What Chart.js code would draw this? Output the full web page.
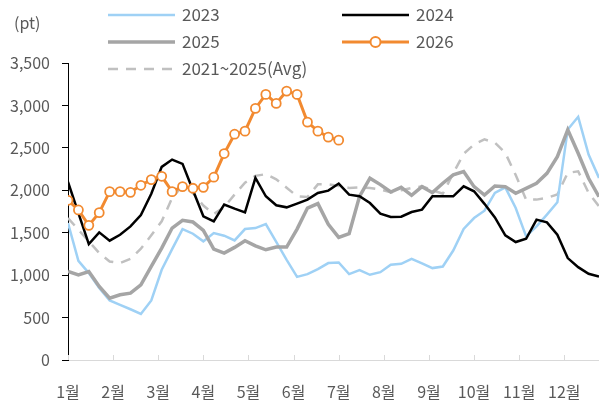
<!DOCTYPE html>
<html>
<head>
<meta charset="utf-8">
<script src="https://cdn.jsdelivr.net/npm/chart.js@4.4.1/dist/chart.umd.min.js"></script>
<style>
  html, body { margin: 0; padding: 0; background: #fff; }
  #wrap { position: relative; width: 599px; height: 405px; overflow: hidden; }
  #c { position: absolute; left: 0; top: 0; }
  .lg { position: absolute; font-family: 'Noto Sans CJK KR', 'Noto Sans', sans-serif; font-size: 17px; color: #595959; line-height: 20px; white-space: nowrap; }
  svg.sw { position: absolute; overflow: visible; }
</style>
</head>
<body>
<div id="wrap">
  <canvas id="c" width="599" height="405"></canvas>
  <div class="lg" style="left:14px; top:12px; font-size:16px;">(pt)</div>
  <svg class="sw" style="left:108px; top:14px;" width="67" height="2"><line x1="0" y1="1" x2="67" y2="1" stroke="#9fd1f5" stroke-width="2.5"/></svg>
  <div class="lg" style="left:182px; top:4px;">2023</div>
  <svg class="sw" style="left:342px; top:14px;" width="67" height="2"><line x1="0" y1="1" x2="67" y2="1" stroke="#000" stroke-width="2.5"/></svg>
  <div class="lg" style="left:416px; top:4px;">2024</div>
  <svg class="sw" style="left:108px; top:41px;" width="67" height="2"><line x1="0" y1="1" x2="67" y2="1" stroke="#a5a5a5" stroke-width="3.5"/></svg>
  <div class="lg" style="left:182px; top:31px;">2025</div>
  <svg class="sw" style="left:342px; top:41px;" width="67" height="2"><line x1="0" y1="1" x2="67" y2="1" stroke="#f28a30" stroke-width="3"/><circle cx="33.5" cy="1" r="5" fill="#fff" stroke="#f28a30" stroke-width="2"/></svg>
  <div class="lg" style="left:416px; top:31px;">2026</div>
  <svg class="sw" style="left:108px; top:68px;" width="67" height="2"><line x1="0" y1="1" x2="67" y2="1" stroke="#c0c0c0" stroke-width="2.5" stroke-dasharray="10 8"/></svg>
  <div class="lg" style="left:182px; top:58px;">2021~2025(Avg)</div>
</div>
<script>
// ---- data (weekly index 0..51) ----
const monthLabels = ['1월','2월','3월','4월','5월','6월','7월','8월','9월','10월','11월','12월'];
const monthPos = [0, 4.33, 8.67, 13, 17.33, 21.67, 26, 30.33, 34.67, 39, 43.33, 47.67];
const yTicks = [0, 500, 1000, 1500, 2000, 2500, 3000, 3500];

const s2023 = [1614,1169,1024,850,701,650,598,543,701,1063,1307,1543,1488,1398,1496,1465,1409,1543,1555,1602,1393,1180,980,1012,1071,1142,1150,1012,1059,1004,1035,1122,1134,1193,1138,1083,1102,1290,1545,1673,1760,1969,2035,1791,1457,1575,1713,1858,2717,2866,2421,2146];
const s2024 = [2098,1730,1366,1504,1406,1476,1575,1709,1960,2276,2362,2311,2000,1693,1634,1831,1783,1740,2146,1929,1823,1799,1843,1890,1969,1996,2079,1949,1929,1850,1724,1685,1689,1744,1772,1929,1929,1929,2047,1988,1840,1680,1469,1390,1429,1654,1622,1476,1201,1094,1016,984];
const s2025 = [1043,1004,1043,866,728,768,787,886,1102,1319,1555,1646,1626,1528,1307,1260,1327,1406,1346,1299,1331,1331,1543,1791,1843,1600,1445,1488,1929,2142,2067,1980,2035,1941,2043,1972,2083,2181,2220,2043,1944,2050,2043,1964,2023,2082,2200,2397,2712,2437,2142,1924];
const s2026 = [1882,1768,1587,1736,1984,1984,1976,2059,2126,2165,1984,2043,2024,2035,2154,2433,2661,2697,2965,3130,3024,3169,3130,2803,2697,2626,2591];
const sAvg = [1673,1535,1398,1260,1161,1142,1193,1311,1469,1634,1909,2055,1965,1820,1720,1800,1950,2090,2170,2190,2130,2030,1930,1920,2070,2070,2050,2028,2035,2028,2008,1976,2000,2028,2047,2000,1960,2200,2430,2540,2600,2560,2440,2180,1890,1890,1910,1950,2205,2224,1969,1811];

const toXY = arr => arr.map((v, i) => ({ x: i, y: v }));

const xTickMarks = {
  id: 'xTickMarks',
  beforeDatasetsDraw(chart) {
    const { ctx, chartArea, scales } = chart;
    ctx.save();
    ctx.strokeStyle = '#d9d9d9';
    ctx.lineWidth = 1;
    monthPos.forEach(v => {
      const px = Math.round(scales.x.getPixelForValue(v)) + 0.5;
      ctx.beginPath();
      ctx.moveTo(px, chartArea.bottom);
      ctx.lineTo(px, chartArea.bottom - 5);
      ctx.stroke();
    });
    ctx.restore();
  }
};

Chart.defaults.font.family = "'Noto Sans CJK KR', 'Noto Sans', sans-serif";
Chart.defaults.font.size = 16;
Chart.defaults.color = '#595959';

new Chart(document.getElementById('c'), {
  type: 'line',
  data: {
    datasets: [
      { label: '2026', data: toXY(s2026), borderColor: '#f28a30', borderWidth: 3, pointRadius: 4.5, pointBorderWidth: 1.8, pointBackgroundColor: '#fff', pointBorderColor: '#f28a30', order: 0 },
      { label: '2024', data: toXY(s2024), borderColor: '#000000', borderWidth: 2.5, pointRadius: 0, order: 1 },
      { label: '2025', data: toXY(s2025), borderColor: '#a5a5a5', borderWidth: 3.5, pointRadius: 0, order: 2 },
      { label: '2023', data: toXY(s2023), borderColor: '#9fd1f5', borderWidth: 2.5, pointRadius: 0, order: 3 },
      { label: '2021~2025(Avg)', data: toXY(sAvg), borderColor: '#c0c0c0', borderWidth: 2.5, borderDash: [10, 8], pointRadius: 0, order: 4 }
    ]
  },
  options: {
    responsive: false,
    animation: false,
    devicePixelRatio: 1,
    layout: { autoPadding: false, padding: { top: 63, right: 0, left: 0, bottom: 0 } },
    plugins: { legend: { display: false }, tooltip: { enabled: false } },
    elements: { line: { tension: 0, borderCapStyle: 'butt', borderJoinStyle: 'miter' } },
    scales: {
      x: {
        type: 'linear',
        min: 0,
        max: 51,
        afterBuildTicks: s => { s.ticks = monthPos.map(v => ({ value: v })); },
        afterFit: s => { s.height = 45; s.paddingRight = 0; s.paddingLeft = 0; },
        ticks: { autoSkip: false, maxRotation: 0, padding: 22, callback: (v, i) => monthLabels[i] },
        grid: { drawOnChartArea: false, drawTicks: false },
        border: { display: true, color: '#d9d9d9', width: 1 }
      },
      y: {
        min: 0,
        max: 3500,
        afterBuildTicks: s => { s.ticks = yTicks.map(v => ({ value: v })); },
        afterFit: s => { s.width = 68; s.paddingTop = 0; s.paddingBottom = 0; },
        ticks: { padding: 12, callback: v => v.toLocaleString('en-US') },
        grid: { drawOnChartArea: false, drawTicks: true, tickLength: 6, color: '#000' },
        border: { display: true, color: '#000', width: 1 }
      }
    }
  },
  plugins: [xTickMarks]
});
</script>
</body>
</html>
